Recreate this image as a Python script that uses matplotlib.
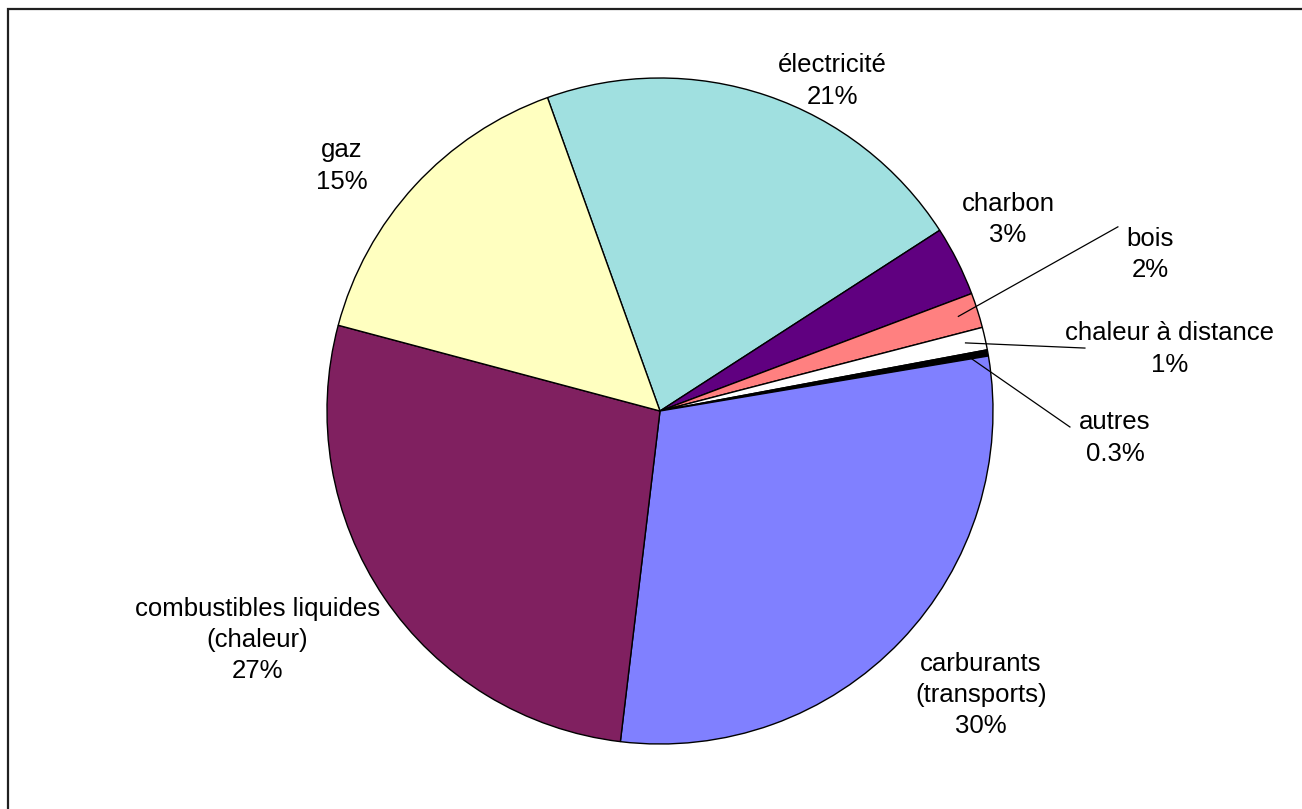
import numpy as np
import matplotlib.pyplot as plt
from matplotlib.patches import Rectangle

plt.rcParams['font.family'] = ['Liberation Sans', 'DejaVu Sans']

# energy consumption by source (share, %), clockwise from electricity
labels = ["électricité", "charbon", "bois", "chaleur à distance", "autres",
          "carburants\n(transports)", "combustibles liquides\n(chaleur)", "gaz"]
shares = [21.4, 3.4, 1.7, 1.1, 0.3, 29.6, 27.3, 15.4]
colors = ["#a0e0e0", "#600080", "#ff8080", "#ffffff", "#000000",
          "#8080ff", "#802060", "#ffffc0"]

# label centres, in pie radius units
label_pos = [(0.517, 0.991), (1.045, 0.574), (1.471, 0.471), (1.529, 0.186),
             (1.366, -0.081), (0.964, -0.853), (-1.210, -0.688), (-0.955, 0.736)]
# where the leader line leaves the label (None = no leader)
leader_from = [None, None, (1.375, 0.553), (1.276, 0.189), (1.231, -0.048),
               None, None, None]


def pct_text(v):
    return f"{v:.0f}%" if v >= 1 else f"{v:.1f}%"


fig = plt.figure(figsize=(13.02, 8.09), dpi=100)
ax = fig.add_axes([0, 0, 1, 1])

wedges, _ = ax.pie(shares, colors=colors, startangle=109.75, counterclock=False,
                   radius=1.0, center=(0, 0), normalize=True, frame=True,
                   wedgeprops=dict(edgecolor="black", linewidth=1.0))
ax.set_xlim(-660 / 333, (1302 - 660) / 333)
ax.set_ylim((411 - 809) / 333, 411 / 333)
ax.set_aspect("auto")
ax.axis("off")

for w, lab, v, pos, lf in zip(wedges, labels, shares, label_pos, leader_from):
    ax.text(pos[0], pos[1], f"{lab}\n{pct_text(v)}", ha="center", va="center",
            fontsize=18.5, linespacing=1.38, color="black")
    if lf is not None:
        mid = np.deg2rad((w.theta1 + w.theta2) / 2)
        ax.plot([lf[0], 0.94 * np.cos(mid)], [lf[1], 0.94 * np.sin(mid)],
                color="black", linewidth=0.9)

fig.patches.append(Rectangle((8 / 1302, -0.1), 1.2, 1 - 9 / 809 + 0.1,
                             transform=fig.transFigure, fill=False,
                             edgecolor="#202020", linewidth=1.6))

fig.savefig("out.png", dpi=100, facecolor="white")
